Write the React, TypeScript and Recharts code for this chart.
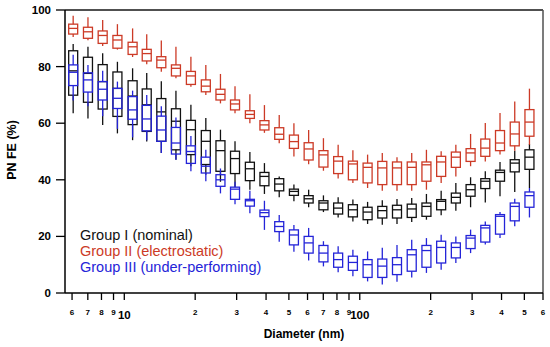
import { ComposedChart, Bar, XAxis, YAxis, Customized } from "recharts";

// EEPS channel mid-point diameters (nm)
const diameters = [
  6.04, 6.98, 8.06, 9.31, 10.8, 12.4, 14.3, 16.5, 19.1, 22.1, 25.5, 29.4, 34.0, 39.2, 45.3, 52.3,
  60.4, 69.8, 80.6, 93.1, 107.5, 124.1, 143.3, 165.5, 191.1, 220.7, 254.8, 294.3, 339.8, 392.4, 453.2, 523.3,
];

// Group I (nominal)
const nominalMax = [88, 87, 84.7, 81.7, 79.4, 77.7, 74.8, 71.5, 66.5, 61.8, 57.7, 53.6, 49.8, 45.9, 41.2, 38.3, 36.5, 34.5, 33.8, 33, 32.2, 32.8, 33.2, 33.6, 35, 36.1, 38.9, 40.9, 43, 46.3, 50.3, 52.7];
const nominalQ3 = [85.6, 83.3, 80.7, 78.1, 75, 72.1, 68.7, 65.1, 61, 57.4, 53.8, 50.1, 46.2, 42.6, 40.4, 36.7, 34.4, 32.6, 31.8, 31.2, 30.3, 30.6, 31, 31.4, 31.8, 33, 35.3, 38.3, 40.4, 43.4, 47.1, 50.6];
const nominalMed = [78.5, 77.6, 74.7, 72.3, 69.6, 66.5, 64, 60.7, 57.7, 53.6, 50.3, 47.5, 43.9, 41.2, 38.5, 35.9, 33.3, 31.8, 30, 29.4, 28.6, 29.1, 29.4, 29.7, 30.6, 32.4, 33.8, 36.5, 39.5, 42.6, 45.9, 48];
const nominalQ1 = [69.9, 67.4, 65, 62.4, 59.5, 57.1, 53.6, 50.6, 48.9, 45.4, 43, 42.2, 39.7, 37.9, 36.1, 34.5, 31.8, 29.4, 27.9, 26.9, 25.9, 26.5, 26.5, 26.7, 27.1, 29.4, 31.8, 34.2, 36.9, 39.5, 42.8, 43.7];
const nominalMin = [63.5, 61.7, 59.4, 56.4, 54, 53.5, 49.5, 47.1, 44.8, 41.8, 39.3, 37.5, 36.5, 35, 33.8, 32.4, 30.3, 28.6, 26.7, 25.3, 24.4, 24.1, 24.4, 25.1, 25.9, 27.5, 29.1, 30.3, 32, 34.2, 35.7, 37.1];

// Group II (electrostatic)
const electroMax = [98, 97.4, 96.5, 95, 93.5, 91.4, 89.2, 87, 83.5, 80.6, 77.4, 73.1, 70.2, 66.4, 62.9, 60, 57.6, 54.7, 52.4, 50.4, 48.9, 49.5, 48, 49.5, 50.6, 50.1, 52.4, 56.2, 60.1, 63.6, 67.7, 72.2];
const electroQ3 = [95, 93.9, 92.6, 91, 88.6, 86.1, 83.5, 80.6, 78.3, 75.3, 72, 68.2, 64.4, 60.9, 58.4, 55.8, 53.1, 50.3, 48.2, 46.6, 45.9, 46.5, 46.3, 46.3, 46.3, 48.3, 49.8, 51, 54.4, 57.4, 60.4, 64.8];
const electroMed = [93.5, 92.3, 91, 89.4, 87, 84.6, 82.3, 79.4, 76.7, 73.1, 70.2, 66.8, 63.1, 59.4, 56.1, 53.5, 50.9, 48.8, 46.6, 45.6, 44.4, 44.2, 44.2, 44.4, 45.3, 46.3, 48, 49.5, 51.2, 53, 56.2, 60.4];
const electroQ1 = [91.5, 90, 88.2, 86.5, 84.3, 82, 79.6, 76.7, 73.7, 71.1, 68.2, 64.7, 61.7, 57.6, 54.3, 51.1, 47, 44.5, 42.2, 40, 38.9, 38.3, 38.3, 38.3, 39.5, 41.2, 44.4, 46.5, 48.3, 50.3, 52, 55.4];
const electroMin = [90.5, 89.3, 87.3, 86, 83.4, 80.8, 78.2, 75.9, 72.9, 70, 67, 63.5, 60, 56.6, 52.9, 48.2, 45.5, 43.2, 40.5, 38.9, 37.1, 36.1, 36.1, 36.1, 36.5, 38.9, 41.2, 44.8, 46.5, 48.9, 50.3, 52.4];

// Group III (under-performing)
const underMax = [84.2, 80.6, 78.5, 74.7, 71.5, 70, 66, 62, 55.5, 50.6, 44, 39.3, 36.1, 32.6, 27.6, 24, 23, 18.3, 16.5, 15.3, 14.7, 16, 17, 18.8, 19.4, 20.6, 20, 22.4, 25.3, 28.6, 33.3, 37.1];
const underQ3 = [80.6, 77.8, 74.7, 72.3, 69.4, 66.3, 62.5, 58.5, 52, 48, 41.8, 37.4, 33.1, 29.3, 25.2, 22.3, 20, 16.8, 14.1, 13, 11.8, 12, 12.5, 15.3, 16.8, 18.3, 17.7, 20.3, 23.9, 27.7, 31.8, 35.7];
const underMed = [78, 75.3, 72, 68.8, 64.7, 61.5, 57.6, 53, 50, 44.8, 40, 36.7, 32.6, 28.4, 23.5, 20.5, 17.7, 14.1, 11.8, 10.8, 10, 9.5, 10, 13.5, 15, 16.1, 16.1, 19.4, 23, 27.1, 30.6, 34.4];
const underQ1 = [73.3, 71, 68.2, 65.2, 61.4, 57.3, 53.6, 49.1, 45.8, 42.4, 37.7, 33.1, 30.7, 27, 21.7, 17, 14.1, 11, 9.1, 8, 5.5, 5.5, 6.5, 7.7, 9.1, 10.6, 12.4, 15.7, 18, 20.8, 25.5, 30.3];
const underMin = [68, 66, 62.5, 58, 55, 54, 49.5, 47.1, 43, 39.5, 35.2, 31.4, 28.2, 22.3, 18.1, 14.6, 11.5, 9.4, 7.3, 5.9, 4.1, 3, 4, 5.5, 7.1, 8.2, 10.6, 14.1, 17.1, 19.4, 23.6, 26.7];

const xTicks = [6, 7, 8, 9, 10, 20, 30, 40, 50, 60, 70, 80, 90, 100, 200, 300, 400, 500, 600];
const yTicks = [0, 20, 40, 60, 80, 100];

const stats = (mx: number[], q3: number[], md: number[], q1: number[], mn: number[], i: number) => ({
  max: mx[i], q3: q3[i], med: md[i], q1: q1[i], min: mn[i],
});

const data = diameters.map((d, i) => ({
  d,
  nominal: stats(nominalMax, nominalQ3, nominalMed, nominalQ1, nominalMin, i),
  electro: stats(electroMax, electroQ3, electroMed, electroQ1, electroMin, i),
  under: stats(underMax, underQ3, underMed, underQ1, underMin, i),
}));

const BLACK = "#111111";
const RED = "#cc3a26";
const BLUE = "#2424d8";
const FRAME = "#505050";

// box + whiskers, scaled from the bar's own q1..q3 pixel span
function boxShape(group: "nominal" | "electro" | "under", color: string) {
  return (props: any) => {
    const { x, y, width, height, payload } = props;
    const s = payload[group];
    const k = height / (s.q3 - s.q1);
    const cx = x + width / 2;
    const yMed = y + (s.q3 - s.med) * k;
    const yMax = y - (s.max - s.q3) * k;
    const yMin = y + height + (s.q1 - s.min) * k;
    return (
      <g stroke={color} strokeWidth={1.3} fill="none">
        <line x1={cx} x2={cx} y1={yMax} y2={y} />
        <line x1={cx} x2={cx} y1={y + height} y2={yMin} />
        <rect x={x} y={y} width={width} height={height} />
        <line x1={x} x2={x + width} y1={yMed} y2={yMed} />
      </g>
    );
  };
}

const XTick = (props: any) => {
  const { x, y, payload } = props;
  const v = payload.value;
  const major = v === 10 || v === 100;
  const label = major ? String(v) : String(Math.round(v / Math.pow(10, Math.floor(Math.log10(v) + 1e-9))));
  return (
    <g>
      <line x1={x} x2={x} y1={y} y2={y + 7} stroke="#000" strokeWidth={1.3} />
      <text x={x} y={y + (major ? 25.5 : 22)} textAnchor="middle" fontSize={major ? 11.5 : 8} fontWeight="bold" fill="#000">
        {label}
      </text>
    </g>
  );
};

// top/right frame, axis titles and the text legend
const Texts = () => (
  <g>
    <line x1={65} y1={10} x2={543} y2={10} stroke={FRAME} strokeWidth={2} />
    <line x1={543} y1={10} x2={543} y2={293} stroke={FRAME} strokeWidth={1.5} />
    <text x={16} y={150} transform="rotate(-90 16 150)" textAnchor="middle" fontSize={12.5} fontWeight="bold" fill="#000">
      PN FE (%)
    </text>
    <text x={304} y={338} textAnchor="middle" fontSize={12} fontWeight="bold" fill="#000">
      Diameter (nm)
    </text>
    <text x={80} y={240} fontSize={14.5} fill={BLACK}>Group I (nominal)</text>
    <text x={80} y={256} fontSize={14.5} fill={RED}>Group II (electrostatic)</text>
    <text x={80} y={272} fontSize={14.5} fill={BLUE}>Group III (under-performing)</text>
  </g>
);

const xAxisCommon = {
  dataKey: "d",
  type: "number" as const,
  scale: "log" as const,
  domain: [5.6, 600],
  allowDataOverflow: true,
};

export default function App() {
  return (
    <div style={{ position: "absolute", left: 0, top: 0, background: "#fff", fontFamily: "'Liberation Sans', Arial, sans-serif" }}>
      <ComposedChart width={550} height={347} data={data} margin={{ top: 10, right: 7, left: 0, bottom: 0 }}>
        <XAxis
          xAxisId="a"
          {...xAxisCommon}
          ticks={xTicks}
          interval={0}
          tick={<XTick />}
          tickLine={false}
          tickSize={0}
          tickMargin={0}
          height={54}
          axisLine={{ stroke: "#000", strokeWidth: 1.5 }}
        />
        <XAxis xAxisId="b" {...xAxisCommon} hide />
        <XAxis xAxisId="c" {...xAxisCommon} hide />
        <YAxis
          domain={[0, 100]}
          ticks={yTicks}
          width={65}
          tickSize={9}
          tickMargin={5}
          axisLine={{ stroke: "#000", strokeWidth: 1.5 }}
          tickLine={{ stroke: "#000", strokeWidth: 1.3 }}
          tick={{ fill: "#000", fontSize: 11.5, fontWeight: "bold" }}
        />
        <Bar xAxisId="a" dataKey={(r: any) => [r.nominal.q1, r.nominal.q3]} barSize={9} shape={boxShape("nominal", BLACK)} isAnimationActive={false} />
        <Bar xAxisId="b" dataKey={(r: any) => [r.electro.q1, r.electro.q3]} barSize={9} shape={boxShape("electro", RED)} isAnimationActive={false} />
        <Bar xAxisId="c" dataKey={(r: any) => [r.under.q1, r.under.q3]} barSize={9} shape={boxShape("under", BLUE)} isAnimationActive={false} />
        <Customized component={<Texts />} />
      </ComposedChart>
    </div>
  );
}
